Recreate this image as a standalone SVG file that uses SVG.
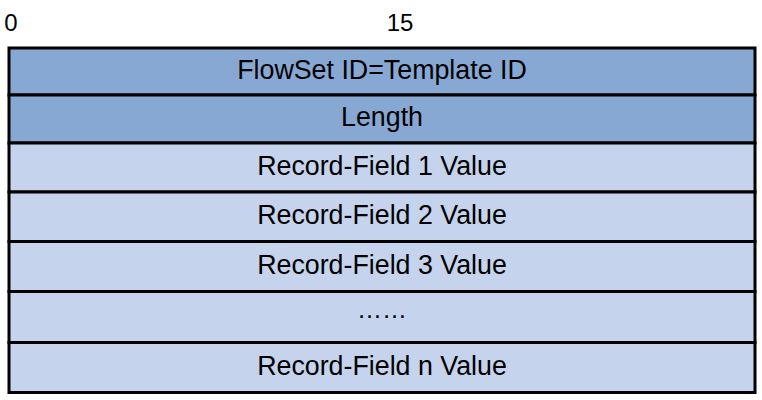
<svg xmlns="http://www.w3.org/2000/svg" width="762" height="400" viewBox="0 0 762 400">
<style>
.f{stroke:#000;stroke-width:3}
.d{fill:#88A8D4}
.l{fill:#C5D3EC}
text{font-family:"Liberation Sans",Arial,sans-serif;font-size:26.8px;fill:#000;text-anchor:middle}
text.n{font-size:24px}
text.e{font-size:25px}
</style>
<rect width="762" height="400" fill="#fff"/>
<g id="labels">
<text class="n" x="11" y="31">0</text>
<text class="n" x="400" y="31">15</text>
</g>
<g id="row1"><rect class="f d" x="9" y="48" width="746" height="47"/><text x="382" y="79">FlowSet ID=Template ID</text></g>
<g id="row2"><rect class="f d" x="9" y="95" width="746" height="48"/><text x="382" y="126">Length</text></g>
<g id="row3"><rect class="f l" x="9" y="143" width="746" height="49"/><text x="382" y="175">Record-Field 1 Value</text></g>
<g id="row4"><rect class="f l" x="9" y="192" width="746" height="49.5"/><text x="382" y="224">Record-Field 2 Value</text></g>
<g id="row5"><rect class="f l" x="9" y="241.5" width="746" height="50"/><text x="382" y="274">Record-Field 3 Value</text></g>
<g id="row6"><rect class="f l" x="9" y="291.5" width="746" height="51"/><text class="e" x="382" y="317.5">……</text></g>
<g id="row7"><rect class="f l" x="9" y="342.5" width="746" height="50"/><text x="382" y="374.5">Record-Field n Value</text></g>
</svg>
